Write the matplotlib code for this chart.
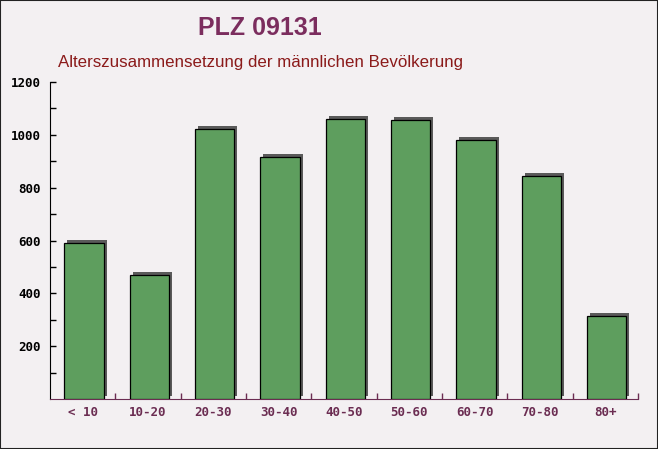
import matplotlib.pyplot as plt
import matplotlib.transforms as mtransforms
from matplotlib.patches import Rectangle

# data
categories = ['< 10', '10-20', '20-30', '30-40', '40-50', '50-60', '60-70', '70-80', '80+']
values = [590, 469, 1022, 916, 1060, 1056, 980, 844, 314]
yticks = [200, 400, 600, 800, 1000, 1200]

bg = '#f3f0f2'
fig = plt.figure(figsize=(6.58, 4.49), dpi=100, facecolor=bg)
ax = fig.add_axes([50 / 658, 50 / 449, 588 / 658, 317 / 449])
ax.set_facecolor('none')

x = [i + 0.52 for i in range(len(values))]

# shadow: shifted a few pixels right and up
shadow = ax.transData + mtransforms.ScaledTranslation(3 / 100, 3 / 100, fig.dpi_scale_trans)
ax.bar(x, values, width=0.6, color='#5a5a5a', transform=shadow, zorder=2)
ax.bar(x, values, width=0.6, color='#5e9e5e', edgecolor='black', linewidth=0.9, zorder=3)

ax.set_xlim(0, 9)
ax.set_ylim(0, 1200)

ax.set_yticks(yticks)
ax.set_yticks(range(100, 1200, 200), minor=True)
ax.set_xticks([i + 0.5 for i in range(9)])
ax.set_xticklabels(categories)
ax.set_xticks(range(1, 10), minor=True)

ax.tick_params(axis='y', which='both', direction='in', length=4, width=1, color='black',
               labelsize=9, pad=6.5)
ax.tick_params(axis='x', which='major', length=0, labelsize=9, labelcolor='#6b2d52', pad=5)
ax.tick_params(axis='x', which='minor', direction='in', length=4, width=1, color='#6b2d52')
for lab in ax.get_yticklabels() + ax.get_xticklabels():
    lab.set_fontfamily('DejaVu Sans Mono')
    lab.set_fontweight('bold')

for s in ['top', 'right']:
    ax.spines[s].set_visible(False)
ax.spines['left'].set_color('black')
ax.spines['bottom'].set_color('#6b2d52')

fig.text(260 / 658, 1 - 28 / 449, 'PLZ 09131', ha='center', va='center', fontsize=18,
         fontweight='bold', color='#7b2d5e', family='Liberation Sans')
fig.text(261 / 658, 1 - 62 / 449, 'Alterszusammensetzung der männlichen Bevölkerung',
         ha='center', va='center', fontsize=12.2, color='#8b1a1a', family='Liberation Sans')

fig.patches.append(Rectangle((0, 0), 1, 1, transform=fig.transFigure, fill=False,
                             edgecolor='#222222', linewidth=1.5))

fig.savefig('out.png', dpi=100, facecolor=bg)
